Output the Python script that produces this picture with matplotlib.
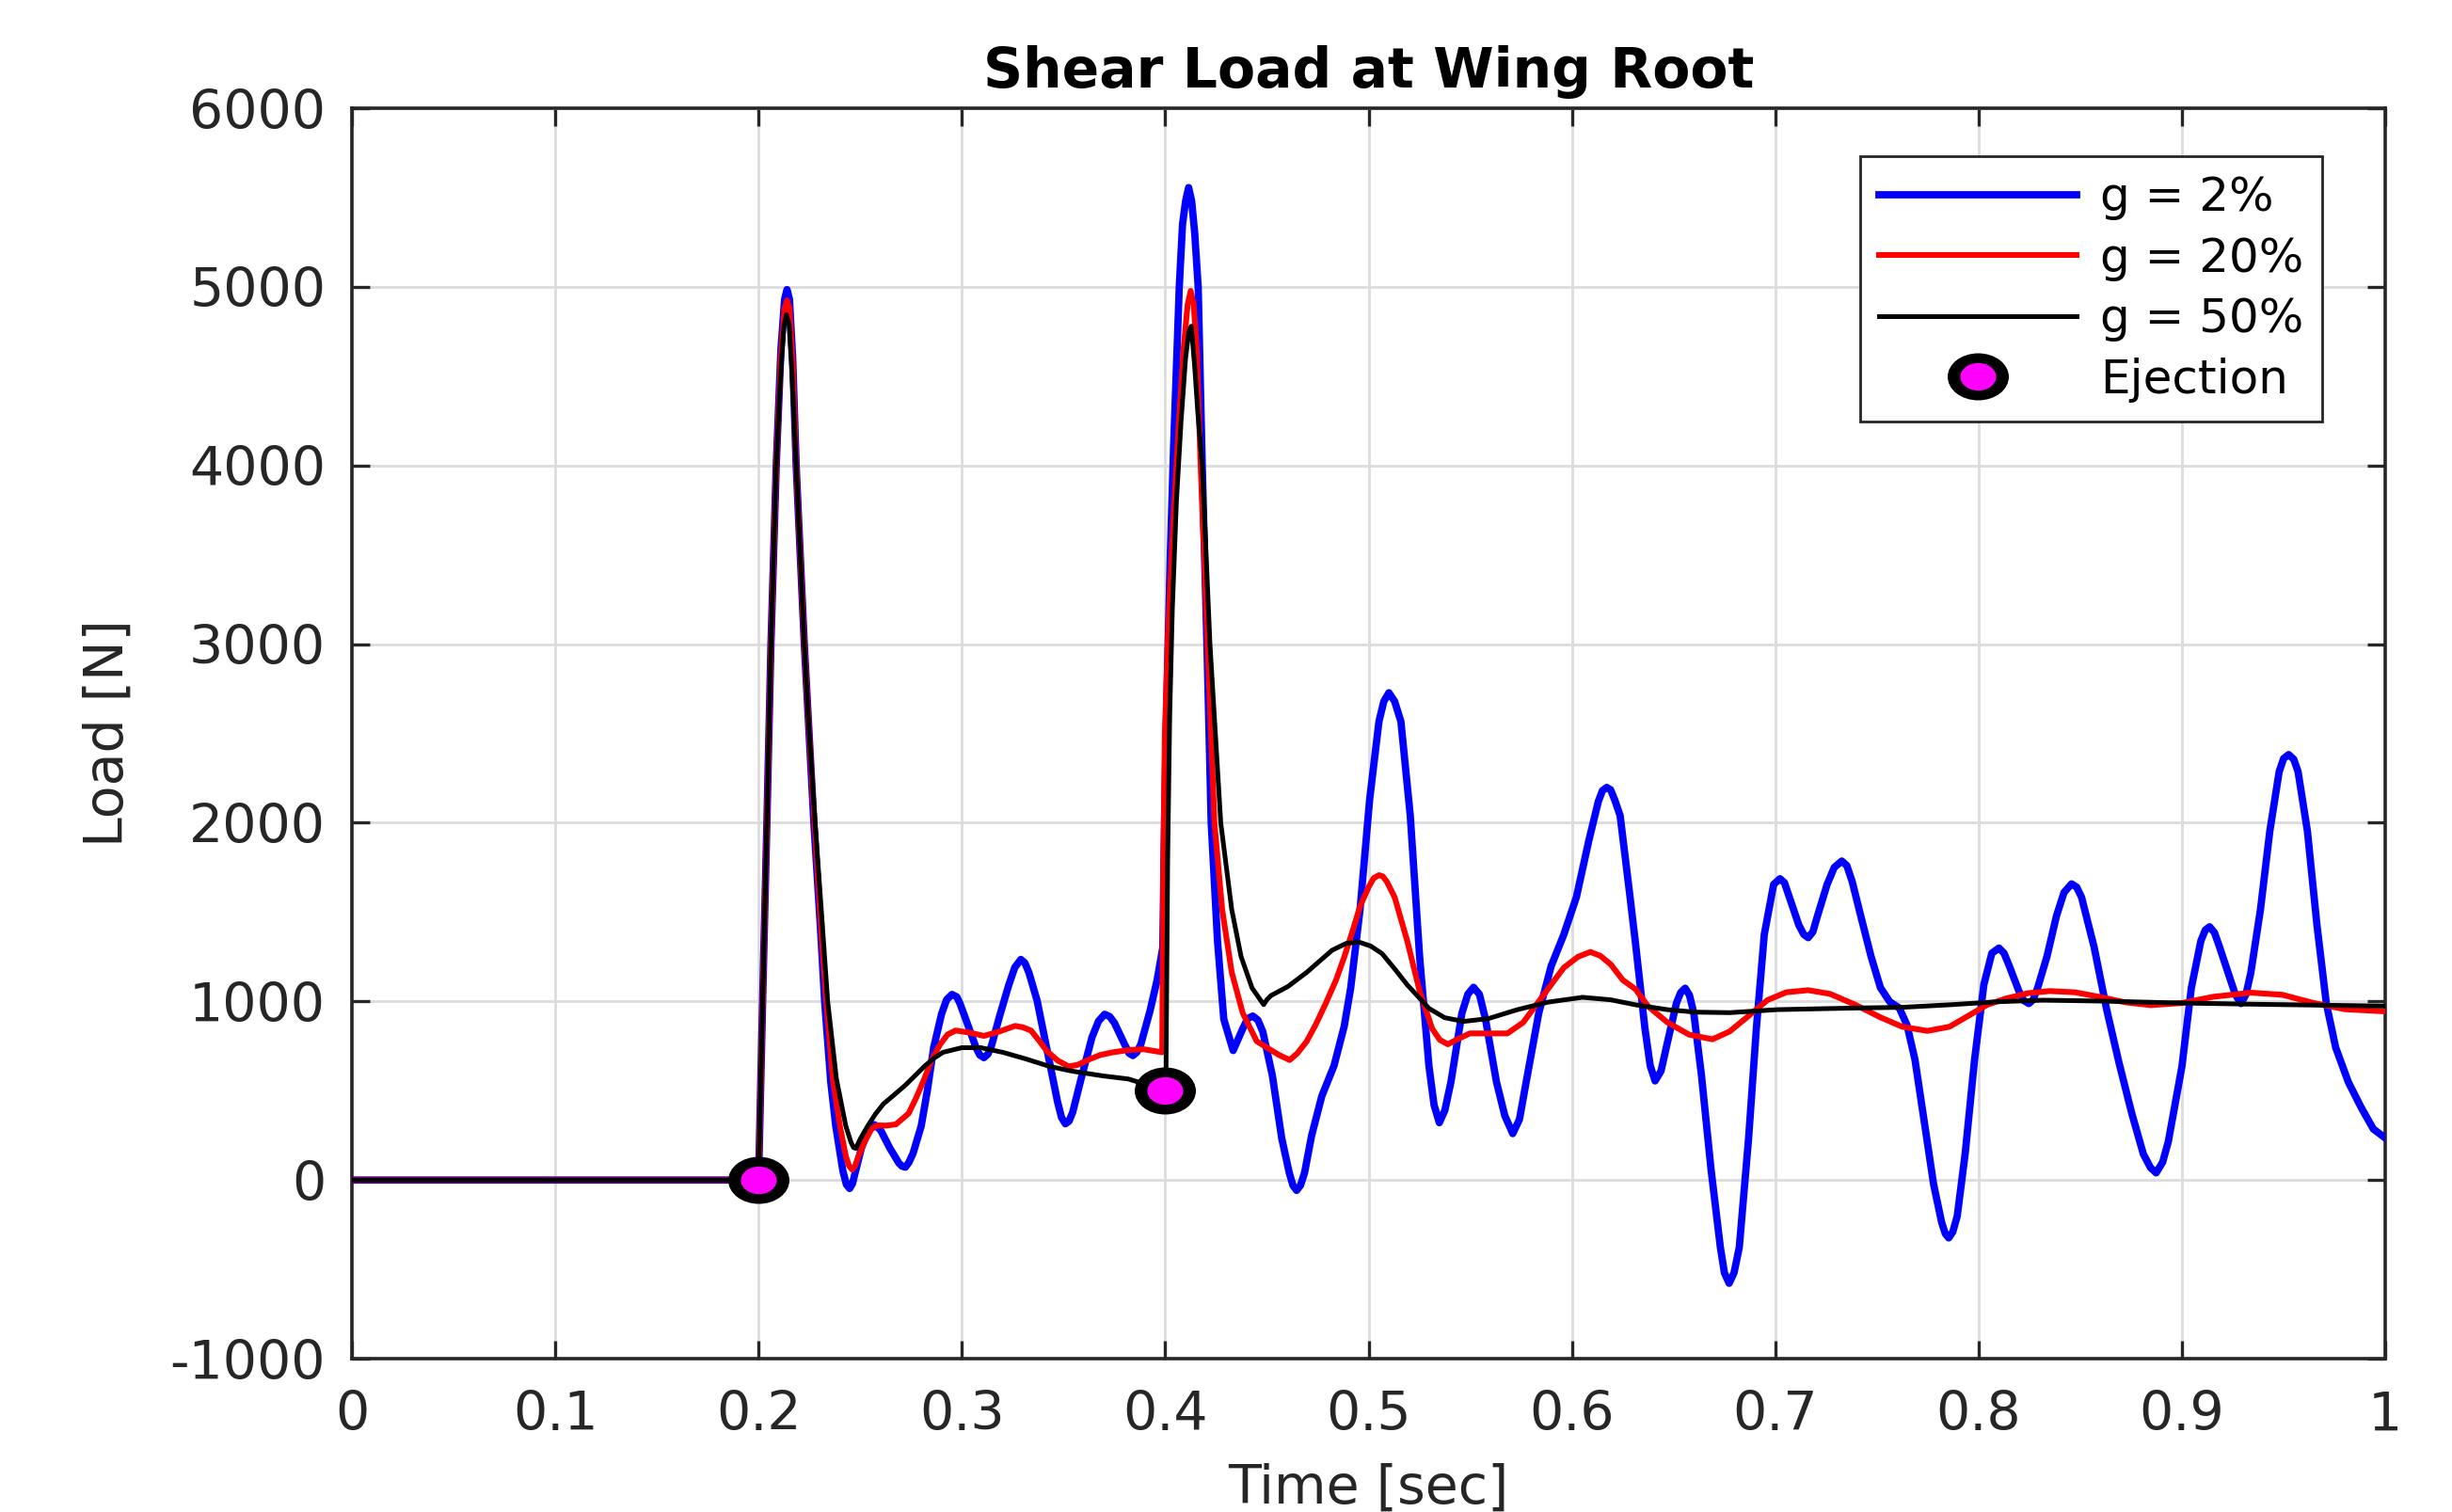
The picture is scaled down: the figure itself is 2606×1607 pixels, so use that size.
import numpy as np
import matplotlib
matplotlib.use("Agg")
import matplotlib.pyplot as plt
from matplotlib.path import Path
from matplotlib.transforms import Affine2D

plt.rcParams["font.family"] = "DejaVu Sans"
plt.rcParams["axes.unicode_minus"] = False

# (time [s], load [N])
g2_points = [
    (0.0, 0), (0.2, 0), (0.2020, 1000), (0.2041, 2000), (0.2061, 3000),
    (0.2087, 4000), (0.2110, 4650), (0.2128, 4930), (0.2140, 4985), (0.2152, 4930),
    (0.2168, 4600), (0.2185, 4000), (0.2225, 3000), (0.2244, 2600), (0.2272, 2000),
    (0.2305, 1400), (0.2325, 1000), (0.2355, 550), (0.2380, 300), (0.2415, 50),
    (0.2432, -25), (0.2448, -47), (0.2462, -20), (0.2475, 40), (0.2506, 180),
    (0.2540, 280), (0.2570, 310), (0.2600, 280), (0.2645, 180), (0.2690, 95),
    (0.2705, 78), (0.2722, 72), (0.2740, 100), (0.2760, 150), (0.2800, 303),
    (0.2830, 500), (0.2861, 741), (0.2900, 930), (0.2925, 1010), (0.2951, 1039),
    (0.2975, 1025), (0.2990, 990), (0.3031, 863), (0.3070, 740), (0.3088, 700),
    (0.3108, 685), (0.3128, 705), (0.3145, 750), (0.3185, 916), (0.3230, 1090),
    (0.3260, 1190), (0.3290, 1235), (0.3310, 1215), (0.3330, 1160), (0.3370, 1004),
    (0.3432, 653), (0.3470, 440), (0.3490, 350), (0.3509, 315), (0.3527, 330),
    (0.3545, 380), (0.3586, 566), (0.3640, 800), (0.3672, 890), (0.3702, 928),
    (0.3727, 915), (0.3750, 880), (0.3800, 760), (0.3822, 710), (0.3841, 697),
    (0.3860, 715), (0.3880, 760), (0.3926, 951), (0.3960, 1120), (0.3988, 1301),
    (0.3998, 2100), (0.4010, 2800), (0.4025, 3500), (0.4041, 4100), (0.4069, 5000),
    (0.4085, 5350), (0.4100, 5480), (0.4115, 5556), (0.4130, 5480), (0.4145, 5300),
    (0.4162, 5000), (0.4182, 4000), (0.4205, 3000), (0.4226, 2000), (0.4257, 1339),
    (0.4288, 900), (0.4334, 725), (0.4381, 847), (0.4406, 905), (0.4431, 918),
    (0.4456, 895), (0.4480, 830), (0.4527, 584), (0.4573, 233), (0.4610, 40),
    (0.4628, -30), (0.4646, -58), (0.4665, -30), (0.4685, 40), (0.4720, 250),
    (0.4770, 470), (0.4830, 640), (0.4880, 860), (0.4912, 1075), (0.4958, 1514),
    (0.5005, 2128), (0.5051, 2567), (0.5075, 2680), (0.5100, 2728), (0.5128, 2680),
    (0.5159, 2567), (0.5205, 2040), (0.5251, 1251), (0.5297, 637), (0.5322, 420),
    (0.5348, 321), (0.5375, 390), (0.5405, 549), (0.5459, 935), (0.5488, 1040),
    (0.5516, 1079), (0.5545, 1040), (0.5575, 900), (0.5629, 549), (0.5670, 360),
    (0.5709, 260), (0.5742, 340), (0.5775, 549), (0.5837, 935), (0.5898, 1198),
    (0.5960, 1374), (0.6022, 1584), (0.6083, 1900), (0.6130, 2120), (0.6150, 2180),
    (0.6171, 2198), (0.6190, 2185), (0.6210, 2130), (0.6237, 2040), (0.6284, 1602),
    (0.6313, 1322), (0.6359, 849), (0.6385, 640), (0.6409, 555), (0.6438, 610),
    (0.6468, 762), (0.6514, 991), (0.6535, 1050), (0.6557, 1074), (0.6578, 1035),
    (0.6599, 937), (0.6637, 587), (0.6684, 61), (0.6730, -377), (0.6750, -520),
    (0.6773, -578), (0.6797, -520), (0.6823, -377), (0.6869, 236), (0.6907, 849),
    (0.6946, 1375), (0.6992, 1655), (0.7023, 1687), (0.7045, 1665), (0.7069, 1585),
    (0.7116, 1427), (0.7140, 1375), (0.7162, 1357), (0.7185, 1390), (0.7208, 1480),
    (0.7255, 1655), (0.7290, 1750), (0.7327, 1786), (0.7352, 1760), (0.7378, 1672),
    (0.7424, 1462), (0.7471, 1252), (0.7517, 1077), (0.7563, 998), (0.7610, 963),
    (0.7648, 867), (0.7687, 674), (0.7733, 324), (0.7779, -26), (0.7818, -236),
    (0.7836, -300), (0.7853, -324), (0.7873, -290), (0.7895, -201), (0.7934, 149),
    (0.7980, 674), (0.8026, 1095), (0.8065, 1270), (0.8100, 1299), (0.8125, 1270),
    (0.8151, 1198), (0.8198, 1058), (0.8222, 1005), (0.8247, 988), (0.8268, 1010),
    (0.8290, 1075), (0.8336, 1251), (0.8383, 1479), (0.8420, 1610), (0.8457, 1658),
    (0.8482, 1640), (0.8506, 1584), (0.8568, 1304), (0.8630, 953), (0.8691, 654),
    (0.8753, 374), (0.8810, 146), (0.8845, 70), (0.8873, 40), (0.8905, 100),
    (0.8933, 216), (0.9000, 637), (0.9046, 1075), (0.9093, 1339), (0.9115, 1400),
    (0.9136, 1418), (0.9160, 1385), (0.9185, 1304), (0.9231, 1146), (0.9262, 1040),
    (0.9290, 988), (0.9315, 1040), (0.9339, 1163), (0.9386, 1514), (0.9432, 1953),
    (0.9478, 2286), (0.9500, 2360), (0.9525, 2382), (0.9550, 2355), (0.9571, 2286),
    (0.9617, 1953), (0.9664, 1426), (0.9710, 988), (0.9756, 742), (0.9818, 549),
    (0.9880, 409), (0.9941, 286), (1.0, 235),
]

g20_points = [
    (0.0, 0), (0.2, 0), (0.2020, 1000), (0.2041, 2000), (0.2061, 3000),
    (0.2087, 4000), (0.2110, 4620), (0.2128, 4880), (0.2140, 4925), (0.2152, 4880),
    (0.2168, 4580), (0.2185, 4000), (0.2225, 3000), (0.2244, 2600), (0.2275, 2000),
    (0.2308, 1400), (0.2333, 1000), (0.2365, 566), (0.2400, 303), (0.2430, 130),
    (0.2445, 80), (0.2460, 58), (0.2475, 80), (0.2490, 130), (0.2522, 215),
    (0.2555, 285), (0.2583, 306), (0.2630, 305), (0.2676, 312), (0.2738, 373),
    (0.2775, 460), (0.2815, 566), (0.2850, 670), (0.2892, 758), (0.2930, 815),
    (0.2969, 837), (0.3040, 825), (0.3108, 807), (0.3180, 830), (0.3262, 863),
    (0.3300, 855), (0.3340, 837), (0.3380, 780), (0.3417, 723), (0.3470, 670),
    (0.3525, 636), (0.3570, 645), (0.3617, 671), (0.3680, 700), (0.3741, 715),
    (0.3820, 728), (0.3895, 732), (0.3985, 715), (0.3990, 1700), (0.3998, 2500),
    (0.4015, 3100), (0.4040, 3700), (0.4065, 4200), (0.4090, 4650), (0.4110, 4900),
    (0.4125, 4978), (0.4140, 4900), (0.4155, 4650), (0.4174, 4000), (0.4208, 3000),
    (0.4242, 2000), (0.4280, 1514), (0.4327, 1163), (0.4381, 935), (0.4450, 777),
    (0.4512, 733), (0.4560, 700), (0.4612, 672), (0.4650, 710), (0.4696, 777),
    (0.4740, 870), (0.4789, 988), (0.4840, 1120), (0.4881, 1251), (0.4920, 1390),
    (0.4958, 1532), (0.5000, 1640), (0.5025, 1690), (0.5051, 1707), (0.5070, 1700),
    (0.5090, 1670), (0.5128, 1584), (0.5190, 1339), (0.5251, 1058), (0.5313, 847),
    (0.5350, 785), (0.5390, 760), (0.5440, 790), (0.5498, 821), (0.5590, 821),
    (0.5683, 821), (0.5760, 882), (0.5852, 1023), (0.5960, 1189), (0.6030, 1250),
    (0.6091, 1277), (0.6140, 1255), (0.6191, 1207), (0.6250, 1120), (0.6313, 1068),
    (0.6375, 972), (0.6468, 884), (0.6576, 814), (0.6691, 788), (0.6776, 832),
    (0.6869, 919), (0.6961, 1007), (0.7054, 1051), (0.7162, 1063), (0.7270, 1042),
    (0.7394, 981), (0.7517, 911), (0.7625, 858), (0.7748, 835), (0.7856, 858),
    (0.7949, 919), (0.8042, 981), (0.8134, 1016), (0.8242, 1046), (0.8350, 1058),
    (0.8474, 1051), (0.8597, 1025), (0.8720, 995), (0.8846, 979), (0.9000, 991),
    (0.9154, 1026), (0.9340, 1049), (0.9494, 1037), (0.9648, 991), (0.9802, 956),
    (1.0, 944),
]

g50_points = [
    (0.0, 0), (0.2, 0), (0.2020, 1000), (0.2041, 2000), (0.2061, 3000),
    (0.2087, 4000), (0.2108, 4500), (0.2125, 4780), (0.2137, 4845), (0.2150, 4790),
    (0.2165, 4500), (0.2185, 4000), (0.2225, 3000), (0.2244, 2600), (0.2278, 2000),
    (0.2313, 1441), (0.2340, 1000), (0.2383, 566), (0.2429, 303), (0.2455, 210),
    (0.2467, 182), (0.2478, 177), (0.2500, 230), (0.2537, 303), (0.2575, 370),
    (0.2614, 426), (0.2670, 480), (0.2722, 531), (0.2770, 585), (0.2815, 636),
    (0.2860, 680), (0.2907, 715), (0.3000, 741), (0.3093, 741), (0.3201, 715),
    (0.3309, 680), (0.3432, 636), (0.3540, 610), (0.3694, 583), (0.3818, 566),
    (0.3920, 530), (0.4003, 496), (0.4012, 1800), (0.4022, 2600), (0.4035, 3200),
    (0.4055, 3800), (0.4078, 4250), (0.4100, 4600), (0.4116, 4750), (0.4128, 4780),
    (0.4145, 4550), (0.4160, 4300), (0.4182, 4000), (0.4220, 3000), (0.4273, 2000),
    (0.4327, 1514), (0.4373, 1251), (0.4427, 1075), (0.4484, 982), (0.4500, 1010),
    (0.4519, 1032), (0.4604, 1084), (0.4696, 1163), (0.4820, 1286), (0.4890, 1325),
    (0.4951, 1333), (0.5010, 1310), (0.5066, 1268), (0.5130, 1180), (0.5190, 1093),
    (0.5297, 961), (0.5374, 909), (0.5467, 888), (0.5590, 904), (0.5729, 953),
    (0.5883, 996), (0.6052, 1023), (0.6191, 1009), (0.6313, 981), (0.6468, 954),
    (0.6607, 940), (0.6776, 937), (0.7008, 954), (0.7394, 963), (0.7625, 967),
    (0.7856, 981), (0.8088, 998), (0.8319, 1007), (0.8599, 1002), (0.9000, 991),
    (0.9370, 984), (0.9679, 979), (1.0, 974),
]

eject_t = [0.2, 0.4]
eject_load = [0, 500]

series_labels = ["g = 2%", "g = 20%", "g = 50%", "Ejection"]
x_ticks = [0, 0.1, 0.2, 0.3, 0.4, 0.5, 0.6, 0.7, 0.8, 0.9, 1.0]
x_tick_labels = ["0", "0.1", "0.2", "0.3", "0.4", "0.5", "0.6", "0.7", "0.8", "0.9", "1"]
y_ticks = [-1000, 0, 1000, 2000, 3000, 4000, 5000, 6000]

t_g2, load_g2 = np.array(sorted(g2_points)).T
t_g20, load_g20 = np.array(sorted(g20_points)).T
t_g50, load_g50 = np.array(sorted(g50_points)).T

# oval marker (the source picture is stretched sideways)
oval = Path.unit_circle().transformed(Affine2D().scale(1.3, 1.0))

fig = plt.figure(figsize=(13.03, 8.035), dpi=200)
ax = fig.add_axes([0.1435, 0.1014, 0.8293, 0.8270])

l1, = ax.plot(t_g2, load_g2, color="#0000ff", linewidth=2.8,
              solid_joinstyle="round", zorder=3)
l2, = ax.plot(t_g20, load_g20, color="#ff0000", linewidth=2.2,
              solid_joinstyle="round", zorder=4)
l3, = ax.plot(t_g50, load_g50, color="#000000", linewidth=1.8,
              solid_joinstyle="round", zorder=5)

m_out, = ax.plot(eject_t, eject_load, linestyle="none", marker=oval,
                 markersize=23.4, markerfacecolor="black",
                 markeredgewidth=0, zorder=6)
m_in, = ax.plot(eject_t, eject_load, linestyle="none", marker=oval,
                markersize=13.7, markerfacecolor="#ff00ff",
                markeredgewidth=0, zorder=7)

ax.set_xlim(0, 1)
ax.set_ylim(-1000, 6000)
ax.set_xticks(x_ticks)
ax.set_xticklabels(x_tick_labels)
ax.set_yticks(y_ticks)

ax.grid(True, color="#dcdcdc", linewidth=1.0)
ax.set_axisbelow(True)

ax.tick_params(direction="in", length=7, width=1.2, top=True, right=True,
               color="#262626", labelcolor="#262626", labelsize=20.5)
ax.tick_params(axis="x", pad=12)
ax.tick_params(axis="y", pad=10)
for sp in ax.spines.values():
    sp.set_color("#262626")
    sp.set_linewidth(1.3)

ax.set_title("Shear Load at Wing Root", fontsize=21, fontweight="bold", pad=8)
ax.set_xlabel("Time [sec]", fontsize=20.5, color="#262626")
ax.set_ylabel("Load [N]", fontsize=20.5, color="#262626")
ax.xaxis.set_label_coords(0.5, -0.083)
ax.yaxis.set_label_coords(-0.107, 0.5)

leg = ax.legend([l1, l2, l3, (m_out, m_in)], series_labels,
                loc="upper right", bbox_to_anchor=(0.969, 0.9616),
                borderaxespad=0, fontsize=18, handlelength=4.2,
                handletextpad=0.5, labelspacing=0.33, borderpad=0.4,
                fancybox=False, framealpha=1)
leg.get_frame().set_edgecolor("#262626")
leg.get_frame().set_linewidth(1.0)

fig.savefig("out.png", dpi=200)
